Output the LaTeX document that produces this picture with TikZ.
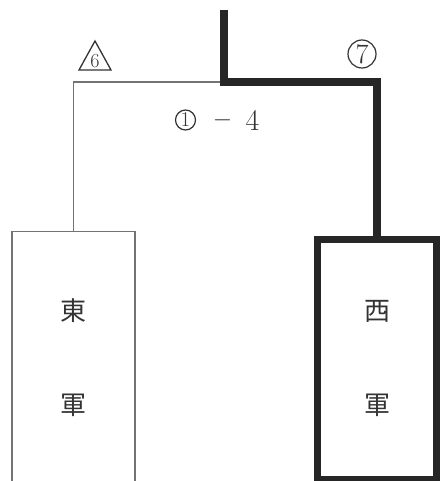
\documentclass[tikz,border=0pt]{standalone}
\usepackage{fontspec}
\newfontfamily\cjk{Noto Sans CJK JP}
\begin{document}
\begin{tikzpicture}[x=1pt,y=-1pt,
  thinline/.style={draw=black!55, line width=1.2pt},
  thickline/.style={draw=black!85, line width=8.5pt, line join=miter},
  kanji/.style={font=\cjk\fontsize{26}{26}\selectfont, text=black!80, inner sep=0pt},
  numlabel/.style={font=\fontsize{30}{30}\selectfont, text=black!80, inner sep=0pt}]
\useasboundingbox (0,0) rectangle (441,481);
\clip (0,0) rectangle (441,481);
% boxes
\node[thinline, rectangle, minimum width=123pt, minimum height=300pt, inner sep=0pt, anchor=north] (east) at (73.5,231) {};
\node[draw=black!85, line width=7pt, rectangle, minimum width=119pt, minimum height=240.5pt, inner sep=0pt, anchor=north] (west) at (377,235.5) {};
% texts in boxes
\node[kanji] (e1) at (73,311) {東};
\node[kanji] (e2) at (73,405) {軍};
\node[kanji] (w1) at (377,311) {西};
\node[kanji] (w2) at (377,405) {軍};
% connectors
\coordinate (top) at (224,10);
\coordinate (j) at (224,82);
\draw[thinline] (j) -| (east.north);
\draw[thickline] (top) -- (j) -| (west.north);
% labels
\draw[black!80, line width=1.3pt, line join=miter] (79,70) -- (95,41) -- (111,70) -- cycle;
\node[numlabel, font=\fontsize{20}{20}\selectfont] (six) at (95,61.5) {6};
\node[circle, draw=black!80, line width=1.2pt, minimum size=28pt, inner sep=0pt, numlabel, font=\fontsize{28}{28}\selectfont] (seven) at (362,54) {7};
\node[circle, draw=black!80, line width=1.2pt, minimum size=20pt, inner sep=0pt, numlabel, font=\fontsize{21}{21}\selectfont] (one) at (185.5,120) {1};
\node[numlabel, font=\fontsize{26}{26}\selectfont] (dash) at (222.5,120) {$-$};
\node[numlabel] (four) at (252.5,120) {4};
\end{tikzpicture}
\end{document}
